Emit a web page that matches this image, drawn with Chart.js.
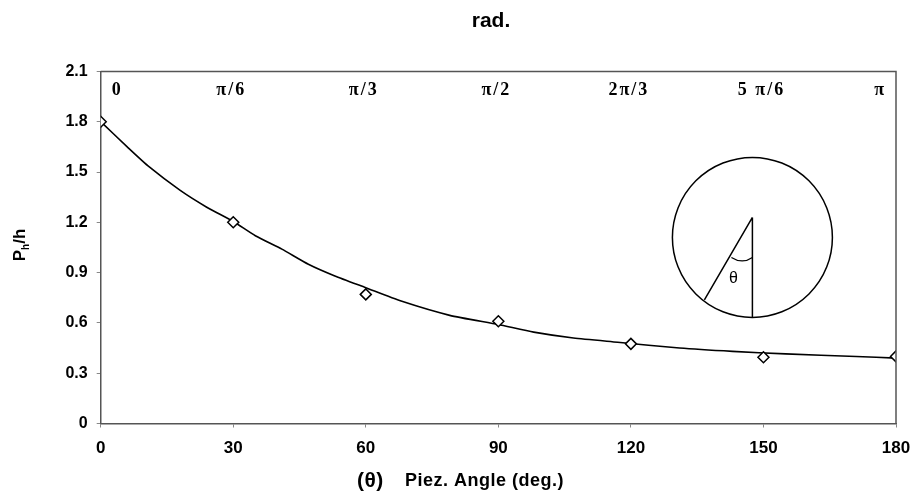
<!DOCTYPE html>
<html>
<head>
<meta charset="utf-8">
<script src="https://cdn.jsdelivr.net/npm/chart.js@4/dist/chart.umd.min.js"></script>
<style>
  html, body { margin: 0; padding: 0; background: #fff; }
  #wrap { width: 911px; height: 491px; position: relative; }
</style>
</head>
<body>
<div id="wrap"><canvas id="piez-chart"></canvas></div>
<script>
// --- DATA ---
const angleDeg = [0, 30, 60, 90, 120, 150, 180];
const measured = [1.80, 1.20, 0.77, 0.61, 0.475, 0.395, 0.40];

// fitted curve, sampled along the drawn line
const fitAngle = [0, 6, 11, 18, 24, 30, 35, 41, 47, 53, 60, 68, 79, 90, 98, 107, 117, 131, 143, 155, 171, 180];
const fitValue = [1.80, 1.65, 1.53, 1.39, 1.29, 1.205, 1.12, 1.04, 0.95, 0.88, 0.81, 0.73, 0.645, 0.59, 0.545, 0.51, 0.485, 0.45, 0.43, 0.415, 0.40, 0.39];

const xTicks = [0, 30, 60, 90, 120, 150, 180];
const yTicks = [0, 0.3, 0.6, 0.9, 1.2, 1.5, 1.8, 2.1];
const radLabels = ['0', 'π/6', 'π/3', 'π/2', '2π/3', '5 π/6', 'π'];
const radAt = [0, 30, 60, 90, 120, 150, 180];

const SANS = '"Liberation Sans", Arial, sans-serif';
const SERIF = '"Liberation Serif", "Times New Roman", serif';

// --- EXTRA DRAWING: title, frame, radian labels, inset sketch, axis titles ---
const extras = {
    id: 'extras',
    afterDraw(chart) {
        const { ctx, chartArea: a, scales: { x, y } } = chart;
        ctx.save();
        ctx.fillStyle = '#000';
        ctx.textBaseline = 'middle';

        // title
        ctx.font = 'bold 21px ' + SANS;
        ctx.textAlign = 'center';
        ctx.fillText('rad.', 491, 21);

        // frame top + right
        ctx.strokeStyle = '#555';
        ctx.lineWidth = 1.5;
        ctx.beginPath();
        ctx.moveTo(a.left, a.top);
        ctx.lineTo(a.right, a.top);
        ctx.lineTo(a.right, a.bottom);
        ctx.stroke();

        // radian labels along the top inside the plot
        ctx.font = 'bold 18px ' + SERIF;
        ctx.letterSpacing = '2px';
        radLabels.forEach((lbl, i) => {
            let px = x.getPixelForValue(radAt[i]) - 2;
            ctx.textAlign = 'center';
            if (i === 0) { ctx.textAlign = 'left'; px = a.left + 11; }
            if (i === radLabels.length - 1) { ctx.textAlign = 'right'; px = a.right - 10; }
            ctx.fillText(lbl, px, a.top + 19);
        });
        ctx.letterSpacing = '0px';

        // inset: circle with the piezo angle
        const cx = x.getPixelForValue(147.5), cy = y.getPixelForValue(1.11), r = 80;
        ctx.strokeStyle = '#000';
        ctx.lineWidth = 1.5;
        ctx.beginPath();
        ctx.arc(cx, cy, r, 0, Math.PI * 2);
        ctx.stroke();
        const topY = cy - 20;
        ctx.beginPath();
        ctx.moveTo(cx, topY);
        ctx.lineTo(cx, cy + r);
        ctx.moveTo(cx, topY);
        ctx.lineTo(cx - 48, cy + 62.5);
        ctx.stroke();
        ctx.lineWidth = 1.2;
        ctx.beginPath();
        ctx.moveTo(cx - 21, topY + 40);
        ctx.quadraticCurveTo(cx - 10, topY + 47, cx, topY + 40);
        ctx.stroke();
        ctx.font = '16px ' + SANS;
        ctx.textAlign = 'center';
        ctx.fillText('θ', cx - 19, topY + 61);

        // x title
        ctx.textAlign = 'left';
        ctx.font = 'bold 21px ' + SANS;
        ctx.letterSpacing = '0.5px';
        ctx.fillText('(θ)', 357, 481);
        ctx.font = 'bold 18px ' + SANS;
        ctx.fillText('Piez. Angle (deg.)', 405, 481);
        ctx.letterSpacing = '0px';

        // y title with subscript
        ctx.translate(25, 245);
        ctx.rotate(-Math.PI / 2);
        ctx.textBaseline = 'alphabetic';
        ctx.font = 'bold 17px ' + SANS;
        const wP = ctx.measureText('P').width;
        ctx.font = 'bold 10px ' + SANS;
        const wSub = ctx.measureText('h').width;
        ctx.font = 'bold 17px ' + SANS;
        const wRest = ctx.measureText('/h').width;
        let tx = -(wP + wSub + wRest) / 2;
        ctx.fillText('P', tx, 0);
        tx += wP;
        ctx.font = 'bold 10px ' + SANS;
        ctx.fillText('h', tx, 4);
        tx += wSub;
        ctx.font = 'bold 17px ' + SANS;
        ctx.fillText('/h', tx, 0);

        ctx.restore();
    }
};

const ctx = document.getElementById('piez-chart').getContext('2d');
const chart = new Chart(ctx, {
    type: 'scatter',
    data: {
        datasets: [
            {
                label: 'Fit',
                data: fitAngle.map((a, i) => ({ x: a, y: fitValue[i] })),
                showLine: true,
                borderColor: '#000',
                borderWidth: 1.6,
                pointRadius: 0,
                tension: 0.2,
                fill: false,
                order: 2
            },
            {
                label: 'Measured',
                data: angleDeg.map((a, i) => ({ x: a, y: measured[i] })),
                pointStyle: 'rectRot',
                pointRadius: 5.5,
                pointBackgroundColor: '#fff',
                pointBorderColor: '#000',
                pointBorderWidth: 1.5,
                order: 1
            }
        ]
    },
    options: {
        responsive: true,
        maintainAspectRatio: false,
        animation: false,
        layout: { padding: { left: 0, right: 15, top: 71.4, bottom: 0 } },
        plugins: {
            legend: { display: false },
            tooltip: { enabled: false },
            title: { display: false }
        },
        scales: {
            x: {
                type: 'linear',
                min: 0, max: 180,
                afterBuildTicks: s => { s.ticks = xTicks.map(v => ({ value: v })); },
                afterFit: s => { s.height = 67.5; s.paddingLeft = 0; s.paddingRight = 0; },
                ticks: {
                    color: '#000',
                    padding: 11,
                    font: { family: SANS, size: 17, weight: 'bold' },
                    callback: v => String(v)
                },
                grid: { drawOnChartArea: false, drawTicks: true, tickLength: 4, color: '#888' },
                border: { display: true, color: '#555', width: 1.5 }
            },
            y: {
                min: 0, max: 2.1,
                afterBuildTicks: s => { s.ticks = yTicks.map(v => ({ value: v })); },
                afterFit: s => { s.width = 100.7; s.paddingTop = 0; s.paddingBottom = 0; },
                ticks: {
                    color: '#000',
                    padding: 9,
                    font: { family: SANS, size: 16, weight: 'bold' },
                    callback: v => (v === 0 ? '0' : v.toFixed(1))
                },
                grid: { drawOnChartArea: false, drawTicks: true, tickLength: 4, color: '#888' },
                border: { display: true, color: '#555', width: 1.5 }
            }
        }
    },
    plugins: [extras]
});
</script>
</body>
</html>
